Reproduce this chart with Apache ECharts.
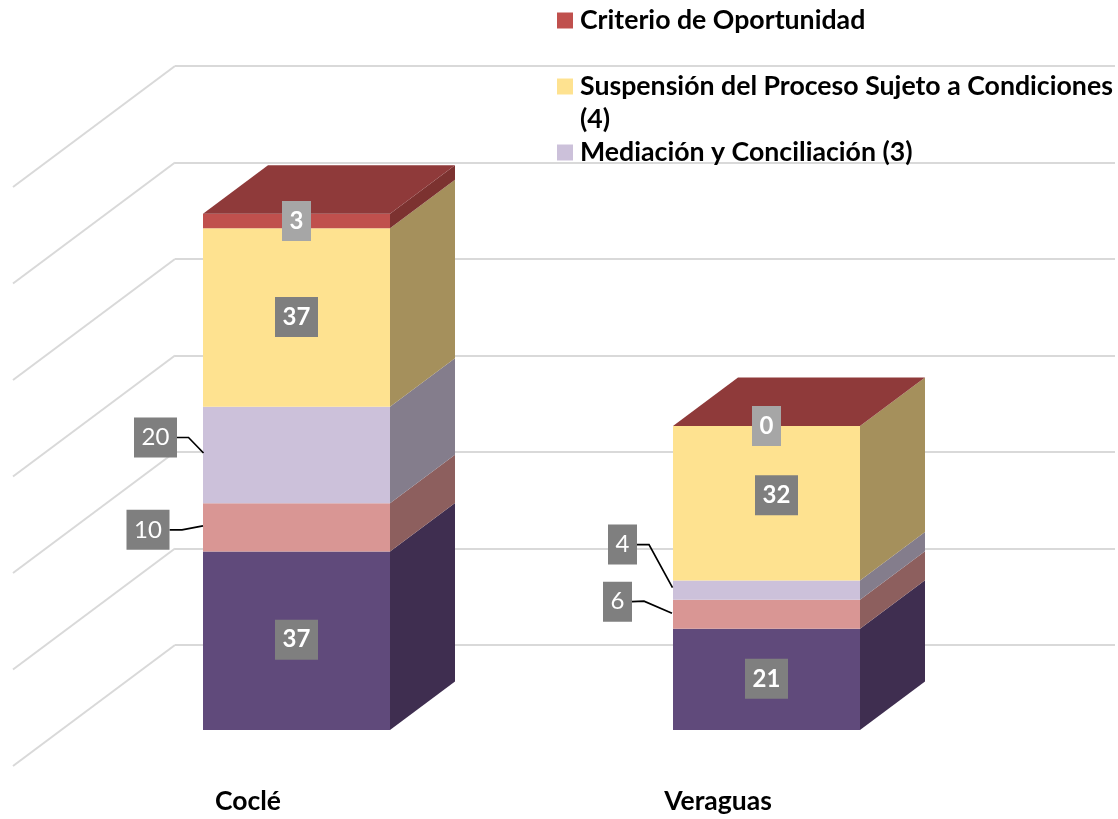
<!DOCTYPE html>
<html>
<head>
    <meta charset="utf-8">
    <title>ECharts</title>
    <script src="https://cdn.jsdelivr.net/npm/echarts@6/dist/echarts.min.js"></script>
    <style>
        html, body { margin: 0; padding: 0; background: #fff; }
        #chart { width: 1118px; height: 819px; }
    </style>
</head>
<body>
    <div id="chart"></div>
    <script type="text/javascript">

        var categories = ['Coclé', 'Veraguas'];
        var yTicks = [0, 20, 40, 60, 80, 100, 120];

        var seriesNames = [
            'Serie 1',
            'Serie 2',
            'Mediación y Conciliación (3)',
            'Suspensión del Proceso Sujeto a Condiciones (4)',
            'Criterio de Oportunidad'
        ];
        var serie1 = [37, 21];
        var serie2 = [10, 6];
        var mediacion = [20, 4];
        var suspension = [37, 32];
        var criterio = [3, 0];
        var seriesValues = [serie1, serie2, mediacion, suspension, criterio];

        var frontColors = ['#604a7b', '#d99694', '#ccc1da', '#fee290', '#c0504d'];
        var sideColors = ['#3f2e50', '#8d5f5e', '#847d8c', '#a5905c', '#7c3230'];
        var topColor = '#8f3a3a';
        var font = 'Lato';

        // wall plane -> front of the bars, and depth of a bar, in pixels
        var toFront = [113.5, 85];
        var barDepth = [65, 48.5];
        var barWidthRatio = 187 / 470;
        var wallDepth = [162, 121];

        // label boxes, relative to the middle of the segment's front face
        var labelLayout = [
            [{dx: 0, dy: -1}, {dx: 0, dy: -0.5}],
            [{dx: -148.5, dy: 2.5, leader: [[-114.5, 2.5], [-93.5, -1.5]]},
             {dx: -149, dy: -12.5, leader: [[-122.5, -13], [-94.5, -1]]}],
            [{dx: -141, dy: -17.5, leader: [[-108, -17.5], [-93, -2]]},
             {dx: -144, dy: -45.5, leader: [[-117.5, -45.5], [-94, -2.5]]}],
            [{dx: 0, dy: -0.5}, {dx: 10, dy: -8}],
            [{dx: 0, dy: 0}, {dx: 0, dy: 0}]
        ];

        var chart = echarts.init(document.getElementById('chart'), null, {renderer: 'canvas'});

        function poly(points, color) {
            return {type: 'polygon', shape: {points: points}, style: {fill: color}};
        }

        function makeRenderItem(layer) {
            return function (params, api) {
                var cat = api.value(0);
                var val = api.value(1);
                var start = api.value(2);
                var end = start + val;
                var bottom = api.coord([cat, start]);
                var top = api.coord([cat, end]);
                var half = api.size([1, 0])[0] * barWidthRatio / 2;
                var cx = bottom[0] - toFront[0];
                var x0 = cx - half;
                var x1 = cx + half;
                var y0 = bottom[1] + toFront[1];
                var y1 = top[1] + toFront[1];
                var dx = barDepth[0];
                var dy = barDepth[1];
                var children = [];

                if (val > 0) {
                    children.push(poly([[x0, y0], [x1, y0], [x1, y1], [x0, y1]], frontColors[layer]));
                    children.push(poly([[x1, y0], [x1 + dx, y0 - dy], [x1 + dx, y1 - dy], [x1, y1]], sideColors[layer]));
                }
                if (layer === seriesValues.length - 1) {
                    children.push(poly([[x0, y1], [x1, y1], [x1 + dx, y1 - dy], [x0 + dx, y1 - dy]], topColor));
                }

                var cfg = labelLayout[layer][cat];
                var midY = (y0 + y1) / 2;
                var lx = cx + cfg.dx;
                var ly = midY + cfg.dy;
                var boxW = String(val).length > 1 ? 43 : 29;
                var boxH = 40;
                if (cfg.leader) {
                    children.push({
                        type: 'polyline',
                        shape: {points: [
                            [lx + boxW / 2, ly],
                            [cx + cfg.leader[0][0], midY + cfg.leader[0][1]],
                            [cx + cfg.leader[1][0], midY + cfg.leader[1][1]]
                        ]},
                        style: {fill: null, stroke: '#000', lineWidth: 1.7}
                    });
                }
                children.push({
                    type: 'rect',
                    shape: {x: lx - boxW / 2, y: ly - boxH / 2, width: boxW, height: boxH},
                    style: {fill: layer === seriesValues.length - 1 ? '#a6a6a6' : '#7f7f7f'}
                });
                children.push({
                    type: 'text',
                    style: {
                        x: lx,
                        y: ly,
                        text: String(val),
                        align: 'center',
                        verticalAlign: 'middle',
                        fill: '#fff',
                        font: (cfg.leader ? 'normal' : 'bold') + ' 24px ' + font
                    }
                });
                return {type: 'group', children: children};
            };
        }

        var series = [{
            type: 'custom',
            name: 'paredes',
            xAxisIndex: 0,
            yAxisIndex: 0,
            silent: true,
            data: yTicks.map(function (t) { return [0, t]; }),
            renderItem: function (params, api) {
                var p = api.coord([0, api.value(1)]);
                var left = params.coordSys.x;
                return {
                    type: 'line',
                    shape: {x1: left, y1: p[1], x2: left - wallDepth[0], y2: p[1] + wallDepth[1]},
                    style: {stroke: '#d9d9d9', lineWidth: 2}
                };
            }
        }];

        var running = categories.map(function () { return 0; });
        seriesValues.forEach(function (values, layer) {
            var rows = values.map(function (v, i) {
                var row = [i, v, running[i]];
                running[i] += v;
                return row;
            });
            series.push({
                type: 'custom',
                name: seriesNames[layer],
                xAxisIndex: 0,
                yAxisIndex: 0,
                itemStyle: {color: frontColors[layer]},
                encode: {x: 0, y: 1},
                data: rows,
                renderItem: makeRenderItem(layer)
            });
        });

        function legendItem(name, top, formatter) {
            var item = {
                left: 557,
                top: top,
                padding: 0,
                orient: 'vertical',
                selectedMode: false,
                icon: 'rect',
                itemWidth: 16,
                itemHeight: 16,
                data: [name],
                textStyle: {
                    fontFamily: font,
                    fontWeight: 'bold',
                    fontSize: 26.7,
                    lineHeight: 33,
                    color: '#000',
                    padding: [0, 0, 0, 2]
                }
            };
            if (formatter) item.formatter = formatter;
            return item;
        }

        var option = {
            animation: false,
            backgroundColor: '#fff',
            legend: [
                legendItem(seriesNames[4], 4),
                // empty first line keeps the icon next to the first line of text
                legendItem(seriesNames[3], 37, function (name) {
                    return '\n' + name.replace(' (4)', '\n(4)');
                }),
                legendItem(seriesNames[2], 136)
            ],
            grid: [
                {left: 175, top: 66, width: 940, height: 579},
                {left: 13, top: 187, width: 940, height: 579}
            ],
            xAxis: [
                {
                    type: 'category',
                    gridIndex: 0,
                    data: categories,
                    axisLine: {show: false},
                    axisTick: {show: false},
                    axisLabel: {show: false}
                },
                {
                    type: 'category',
                    gridIndex: 1,
                    data: categories,
                    axisLine: {show: false},
                    axisTick: {show: false},
                    axisLabel: {
                        margin: 22,
                        fontFamily: font,
                        fontWeight: 'bold',
                        fontSize: 26.5,
                        color: '#000'
                    }
                }
            ],
            yAxis: [
                {
                    type: 'value',
                    gridIndex: 0,
                    min: 0,
                    max: 120,
                    interval: 20,
                    axisLabel: {show: false},
                    axisLine: {show: false},
                    axisTick: {show: false},
                    splitLine: {lineStyle: {color: '#d9d9d9', width: 2}}
                },
                {
                    type: 'value',
                    gridIndex: 1,
                    min: 0,
                    max: 120,
                    show: false,
                    splitLine: {show: false}
                }
            ],
            series: series
        };

        chart.setOption(option);

    </script>
</body>
</html>
